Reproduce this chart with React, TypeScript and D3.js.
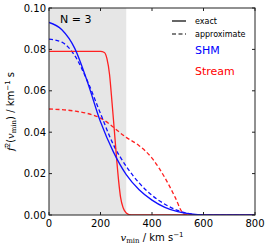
import React from 'react';
import * as d3 from 'd3';

// velocities (km/s) sampled along each curve
const shmExactV = [0, 50, 100, 150, 200, 250, 300, 350, 400, 450, 500, 550, 600, 800];
const shmExact = [0.093, 0.0895, 0.0805, 0.064, 0.045, 0.0305, 0.0195, 0.0122, 0.0072, 0.0037, 0.0016, 0.0005, 0.0, 0.0];

const shmApproxV = [0, 50, 100, 150, 200, 250, 300, 350, 400, 450, 500, 550, 580, 800];
const shmApprox = [0.085, 0.0835, 0.077, 0.0645, 0.049, 0.034, 0.0235, 0.0155, 0.0095, 0.0052, 0.0022, 0.0005, 0.0, 0.0];

const streamExactV = [0, 100, 200, 215, 225, 235, 245, 253, 262, 270, 278, 288, 300, 320, 800];
const streamExact = [0.079, 0.079, 0.079, 0.0785, 0.0755, 0.068, 0.054, 0.042, 0.028, 0.017, 0.0085, 0.0035, 0.001, 0.0, 0.0];

const streamApproxV = [0, 100, 200, 300, 350, 400, 450, 490, 515, 530, 800];
const streamApprox = [0.0512, 0.0502, 0.0468, 0.0375, 0.0335, 0.0275, 0.018, 0.0085, 0.0018, 0.0, 0.0];

const xTicks = [0, 200, 400, 600, 800];
const yTicks = [0.0, 0.02, 0.04, 0.06, 0.08, 0.1];

const W = 270;
const H = 250;
const m = { left: 49, right: 15, top: 8, bottom: 35 };

export default function App() {
  const x = d3.scaleLinear().domain([0, 800]).range([m.left, W - m.right]);
  const y = d3.scaleLinear().domain([0, 0.1]).range([H - m.bottom, m.top]);

  const line = (vs: number[], fs: number[]) =>
    d3.line<number>()
      .x((_, i) => x(vs[i]))
      .y(d => y(d))
      .curve(d3.curveMonotoneX)(fs) || '';

  const font = 'DejaVu Sans';
  const x0 = x(0), x1 = x(800), y0 = y(0), y1 = y(0.1);

  return (
    <svg width={W} height={H} style={{ position: 'absolute', left: 0, top: 0 }} fontFamily={font}>
      <rect x={0} y={0} width={W} height={H} fill="#fff" />
      {/* shaded region */}
      <rect x={x0} y={y1} width={x(300) - x0} height={y0 - y1} fill="#e6e6e6" />

      <defs>
        <clipPath id="plot">
          <rect x={x0} y={y1 - 2} width={x1 - x0} height={y0 - y1 + 2} />
        </clipPath>
      </defs>
      <g clipPath="url(#plot)" fill="none" strokeWidth={1.3}>
        <path d={line(streamApproxV, streamApprox)} stroke="#ff2020" strokeDasharray="4,2.5" />
        <path d={line(shmApproxV, shmApprox)} stroke="#1010ff" strokeDasharray="4,2.5" />
        <path d={line(streamExactV, streamExact)} stroke="#ff2020" />
        <path d={line(shmExactV, shmExact)} stroke="#1010ff" />
      </g>

      {/* frame */}
      <rect x={x0} y={y1} width={x1 - x0} height={y0 - y1} fill="none" stroke="#222" strokeWidth={1} />

      {xTicks.map(t => (
        <g key={'x' + t}>
          <line x1={x(t)} x2={x(t)} y1={y0} y2={y0 - 3} stroke="#222" />
          <line x1={x(t)} x2={x(t)} y1={y1} y2={y1 + 3} stroke="#222" />
          <text x={x(t)} y={y0 + 11.5} fontSize={10} textAnchor="middle" fill="#000">{t}</text>
        </g>
      ))}
      {yTicks.map(t => (
        <g key={'y' + t}>
          <line x1={x0} x2={x0 + 3} y1={y(t)} y2={y(t)} stroke="#222" />
          <line x1={x1} x2={x1 - 3} y1={y(t)} y2={y(t)} stroke="#222" />
          <text x={x0 - 3} y={y(t) + 3.5} fontSize={10} textAnchor="end" fill="#000">{t.toFixed(2)}</text>
        </g>
      ))}

      <text x={60} y={23} fontSize={11} fill="#000">N = 3</text>

      {/* legend */}
      <line x1={172} x2={186} y1={21} y2={21} stroke="#000" strokeWidth={1.2} />
      <text x={195} y={24} fontSize={8} fill="#000">exact</text>
      <line x1={172} x2={186} y1={34} y2={34} stroke="#000" strokeWidth={1.2} strokeDasharray="4,2.5" />
      <text x={195} y={37} fontSize={8} fill="#000">approximate</text>
      <text x={195} y={54} fontSize={11} fill="#0000ff">SHM</text>
      <text x={195} y={75} fontSize={11} fill="#ff0000">Stream</text>

      {/* axis labels */}
      <text x={(x0 + x1) / 2} y={241} fontSize={10} textAnchor="middle" fill="#000">
        <tspan fontFamily="DejaVu Serif" fontStyle="italic">v</tspan>
        <tspan fontFamily="DejaVu Serif" fontSize={7} dy={2}>min</tspan>
        <tspan dy={-2}> / km s</tspan>
        <tspan fontSize={7} dy={-4}>−1</tspan>
      </text>
      <text transform={`translate(14,${(y0 + y1) / 2}) rotate(-90)`} fontSize={10} textAnchor="middle" fill="#000">
        <tspan fontFamily="DejaVu Serif" fontStyle="italic">f̂</tspan>
        <tspan fontSize={7} dy={-4}>2</tspan>
        <tspan dy={4}>(</tspan>
        <tspan fontFamily="DejaVu Serif" fontStyle="italic">v</tspan>
        <tspan fontFamily="DejaVu Serif" fontSize={7} dy={2}>min</tspan>
        <tspan dy={-2}>) / km</tspan>
        <tspan fontSize={7} dy={-4}>−1</tspan>
        <tspan dy={4}> s</tspan>
      </text>
    </svg>
  );
}
